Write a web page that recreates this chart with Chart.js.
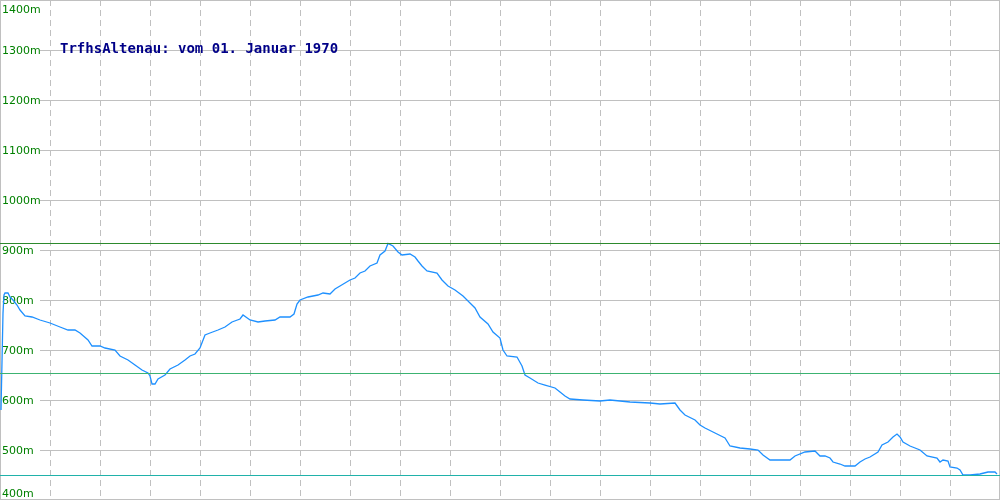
<!DOCTYPE html>
<html>
<head>
<meta charset="utf-8">
<script src="https://cdn.jsdelivr.net/npm/chart.js@4/dist/chart.umd.min.js"></script>
<style>
  html, body { margin: 0; padding: 0; background: #fff; }
  #wrap { width: 1000px; height: 500px; }
</style>
</head>
<body>
<div id="wrap"><canvas id="profile" width="1000" height="500"></canvas></div>
<script>
// elevation profile
const distance = [1, 3, 4, 5, 8, 10, 13, 17, 20, 25, 32, 40, 50, 60, 68, 75, 80, 88, 92, 100,
  105, 115, 120, 128, 135, 142, 148, 150, 152, 155, 158, 165, 170, 178, 185, 190, 195, 200,
  205, 210, 218, 225, 232, 240, 243, 250, 258, 265, 275, 280, 290, 294, 297, 300, 308, 318,
  323, 330, 335, 340, 345, 350, 355, 360, 365, 370, 377, 380, 385, 388, 393, 398, 402, 410,
  415, 418, 422, 427, 437, 442, 448, 455, 463, 470, 475, 480, 488, 493, 500, 503, 507, 517,
  522, 525, 530, 538, 545, 555, 560, 565, 570, 583, 600, 610, 630, 650, 660, 675, 680, 685,
  695, 700, 705, 715, 725, 730, 740, 750, 758, 763, 770, 780, 790, 795, 805, 815, 820, 825,
  830, 833, 840, 845, 855, 860, 865, 870, 878, 882, 888, 893, 897, 900, 903, 910, 920, 927,
  937, 940, 943, 948, 950, 957, 960, 963, 970, 980, 988, 995, 997];
const elevation = [580, 774, 810, 814, 814, 806, 800, 790, 780, 768, 766, 760, 754, 746, 740, 740, 734, 720, 708, 708,
  704, 700, 688, 680, 670, 660, 654, 648, 632, 632, 642, 650, 662, 670, 680, 688, 692, 704,
  730, 734, 740, 746, 756, 762, 770, 760, 756, 758, 760, 766, 766, 772, 792, 800, 806, 810,
  814, 812, 822, 828, 834, 840, 844, 854, 858, 868, 874, 890, 898, 913, 908, 896, 890, 892,
  886, 878, 868, 858, 854, 840, 828, 820, 808, 794, 784, 766, 752, 736, 724, 700, 688, 686,
  668, 650, 644, 634, 630, 624, 616, 608, 602, 600, 598, 600, 596, 594, 592, 594, 580, 570,
  560, 550, 544, 534, 524, 508, 504, 502, 500, 490, 480, 480, 480, 488, 496, 498, 488, 488,
  484, 476, 472, 468, 468, 476, 482, 486, 496, 510, 516, 526, 532, 526, 516, 508, 500, 488,
  484, 476, 480, 478, 466, 464, 460, 450, 450, 452, 456, 456, 452];

const maxElevation = 913;
const avgElevation = 653;
const minElevation = 449;

const yTicks = [400, 500, 600, 700, 800, 900, 1000, 1100, 1200, 1300, 1400];
const xGrid = [50, 100, 150, 200, 250, 300, 350, 400, 450, 500, 550, 600, 650, 700, 750, 800, 850, 900, 950];
const titleText = "TrfhsAltenau: vom 01. Januar 1970";

const xMin = 0, xMax = 1000;

function flatLine(v) {
  return [{ x: xMin, y: v }, { x: xMax, y: v }];
}

const gridPlugin = {
  id: "gridAndLabels",
  beforeDatasetsDraw(chart) {
    const ctx = chart.ctx;
    const xs = chart.scales.x, ys = chart.scales.y;
    const area = chart.chartArea;
    ctx.save();
    ctx.lineWidth = 1;
    ctx.strokeStyle = "#c0c0c0";
    // vertical dashed grid
    ctx.setLineDash([6, 4]);
    xGrid.forEach(v => {
      const px = Math.round(xs.getPixelForValue(v)) + 0.5;
      ctx.beginPath();
      ctx.moveTo(px, area.top);
      ctx.lineTo(px, area.bottom);
      ctx.stroke();
    });
    // horizontal grid, starts after the labels
    ctx.setLineDash([]);
    yTicks.forEach(v => {
      const py = Math.round(ys.getPixelForValue(v)) + 0.5;
      ctx.beginPath();
      ctx.moveTo(40, py);
      ctx.lineTo(area.right, py);
      ctx.stroke();
    });
    // frame
    ctx.strokeRect(0.5, 0.5, chart.width - 1, chart.height - 1);
    // y labels
    ctx.fillStyle = "#008000";
    ctx.font = "11px 'DejaVu Sans'";
    ctx.textAlign = "left";
    ctx.textBaseline = "alphabetic";
    yTicks.forEach(v => {
      let py = ys.getPixelForValue(v) + 4;
      py = Math.min(Math.max(py, 12.5), 497);
      ctx.fillText(v + "m", 2, py);
    });
    // title
    ctx.fillStyle = "#000088";
    ctx.font = "bold 14px 'DejaVu Sans Mono'";
    ctx.fillText(titleText, 60, 53);
    ctx.restore();
  }
};

new Chart(document.getElementById("profile"), {
  type: "line",
  data: {
    datasets: [
      { data: flatLine(maxElevation), borderColor: "#2d8a2d", borderWidth: 1 },
      { data: flatLine(avgElevation), borderColor: "#3cb371", borderWidth: 1 },
      { data: flatLine(minElevation), borderColor: "#20b2aa", borderWidth: 1 },
      {
        data: distance.map((d, i) => ({ x: d, y: elevation[i] })),
        borderColor: "#1e90ff",
        borderWidth: 1.3
      }
    ]
  },
  options: {
    responsive: false,
    animation: false,
    layout: { padding: 0 },
    elements: { point: { radius: 0 }, line: { tension: 0 } },
    plugins: { legend: { display: false }, tooltip: { enabled: false }, title: { display: false } },
    scales: {
      x: { type: "linear", min: xMin, max: xMax, display: false },
      y: { min: 400, max: 1400, display: false }
    }
  },
  plugins: [gridPlugin]
});
</script>
</body>
</html>
